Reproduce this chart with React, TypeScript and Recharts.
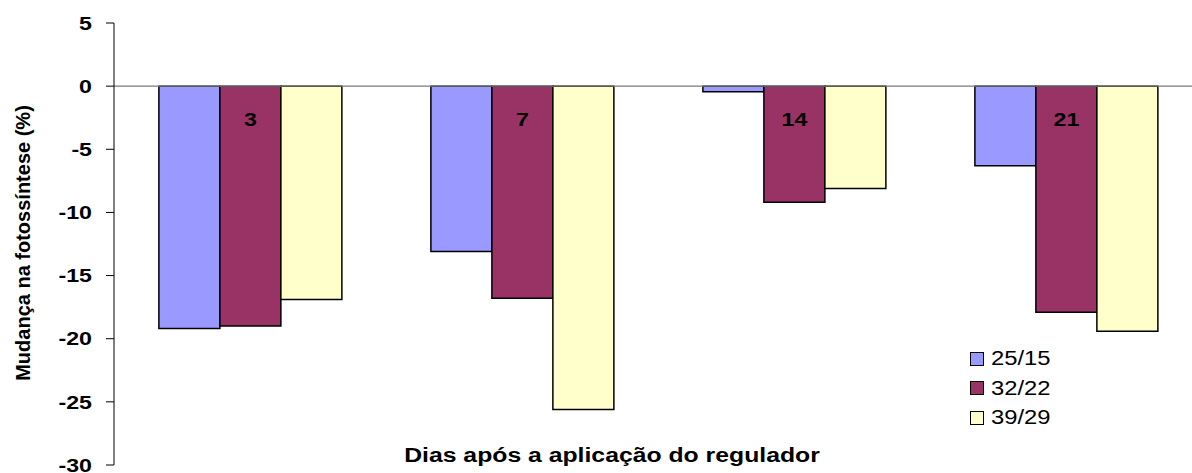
import { BarChart, Bar, XAxis, YAxis, ReferenceLine, LabelList } from "recharts";

const days = ["3", "7", "14", "21"];
const t25 = [-19.2, -13.1, -0.45, -6.3];
const t32 = [-19.0, -16.8, -9.2, -17.9];
const t39 = [-16.9, -25.6, -8.1, -19.4];
const yTicks = [5, 0, -5, -10, -15, -20, -25, -30];

const series = [
  { key: "t25", name: "25/15", color: "#9999FF" },
  { key: "t32", name: "32/22", color: "#993366" },
  { key: "t39", name: "39/29", color: "#FFFFCC" },
];

const data = days.map((d, i) => ({ day: d, t25: t25[i], t32: t32[i], t39: t39[i] }));

const font = "'Liberation Sans', Arial, sans-serif";
// the original text is drawn a bit wide, so stretch it horizontally
const stretch = 1.22;

// day number drawn inside the middle bar, just under the zero line
function DayLabel(props: any) {
  const { x, y, width, height, value } = props;
  const top = Math.min(y, y + height);
  return (
    <text
      transform={`translate(${x + width / 2},${top + 33}) scale(${stretch},1)`}
      textAnchor="middle"
      dominantBaseline="central"
      fontFamily={font}
      fontWeight="bold"
      fontSize={19}
      fill="#000"
    >
      {value}
    </text>
  );
}

function YTick(props: any) {
  const { x, y, payload } = props;
  return (
    <text
      transform={`translate(${x - 12},${y}) scale(${stretch},1)`}
      textAnchor="end"
      dominantBaseline="central"
      fontFamily={font}
      fontWeight="bold"
      fontSize={19}
      fill="#000"
    >
      {payload.value}
    </text>
  );
}

export default function App() {
  return (
    <div
      style={{
        position: "fixed",
        left: 0,
        top: 0,
        width: 1192,
        height: 473,
        overflow: "hidden",
        background: "#fff",
        fontFamily: font,
      }}
    >
      <BarChart
        width={1210}
        height={473}
        data={data}
        margin={{ top: 23, right: 8, bottom: 8, left: 0 }}
        barCategoryGap="16.5%"
        barGap={0}
      >
        <XAxis dataKey="day" hide />
        <YAxis
          width={114}
          domain={[-30, 5]}
          ticks={yTicks}
          interval={0}
          axisLine={{ stroke: "#000" }}
          tickLine={{ stroke: "#000" }}
          tickSize={8}
          tick={<YTick />}
        />
        <ReferenceLine y={0} stroke="#7a7a7a" strokeWidth={1.2} />
        {series.map((s) => (
          <Bar
            key={s.key}
            dataKey={s.key}
            name={s.name}
            fill={s.color}
            stroke="#000"
            strokeWidth={1.5}
            isAnimationActive={false}
          >
            {s.key === "t32" && <LabelList dataKey="day" content={DayLabel} />}
          </Bar>
        ))}
      </BarChart>

      {/* y axis title */}
      <div
        style={{
          position: "absolute",
          left: 23,
          top: 243,
          transform: "translate(-50%, -50%) rotate(-90deg)",
          whiteSpace: "nowrap",
          fontWeight: "bold",
          fontSize: 20,
        }}
      >
        Mudança na fotossíntese (%)
      </div>

      {/* x axis title */}
      <div
        style={{
          position: "absolute",
          left: 612,
          top: 455,
          transform: "translate(-50%, -50%) scaleX(1.27)",
          whiteSpace: "nowrap",
          fontWeight: "bold",
          fontSize: 19.5,
        }}
      >
        Dias após a aplicação do regulador
      </div>

      {/* legend */}
      <div style={{ position: "absolute", left: 970, top: 344 }}>
        {series.map((s) => (
          <div
            key={s.key}
            style={{ display: "flex", alignItems: "center", height: 29.5, fontSize: 19.5 }}
          >
            <span
              style={{
                display: "inline-block",
                width: 12,
                height: 12,
                background: s.color,
                border: "1.5px solid #000",
                marginRight: 7,
              }}
            />
            <span style={{ display: "inline-block", transform: `scaleX(${stretch})`, transformOrigin: "left center" }}>
              {s.name}
            </span>
          </div>
        ))}
      </div>
    </div>
  );
}
